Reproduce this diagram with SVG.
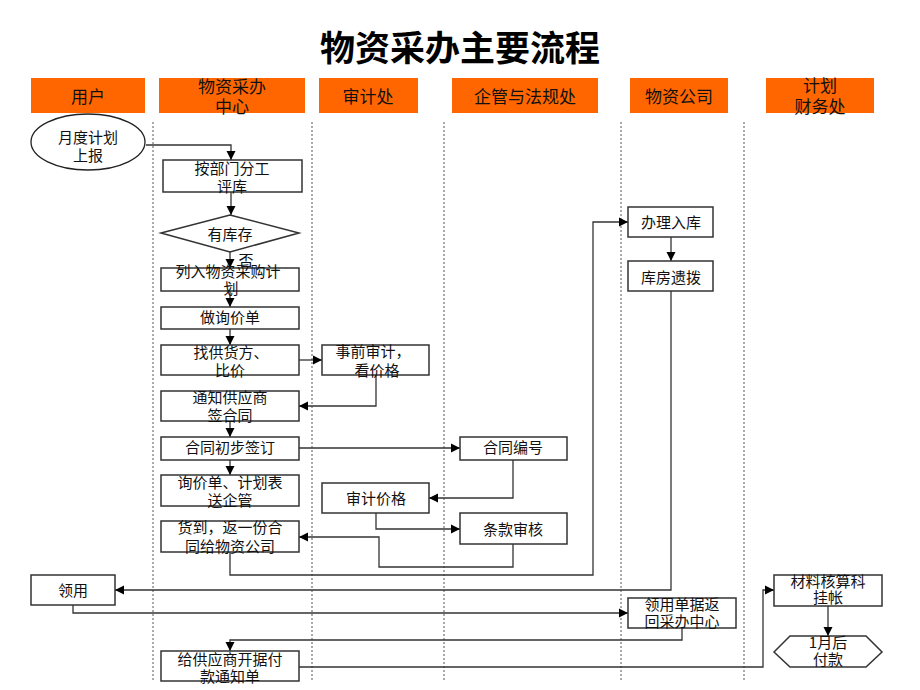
<svg xmlns="http://www.w3.org/2000/svg" width="920" height="690" viewBox="0 0 920 690">
<defs>
<style>
.t{font-family:"Noto Sans CJK SC","Liberation Sans",sans-serif;font-size:15px;fill:#111;text-anchor:middle}
.h{font-family:"Noto Sans CJK SC","Liberation Sans",sans-serif;font-size:17px;fill:#111;text-anchor:middle}
.hd{fill:#FF6600}
.lane{stroke:#555;stroke-width:1;stroke-dasharray:2,2;fill:none}
.box{fill:#fff;stroke:#333;stroke-width:1.5}
.c{fill:none;stroke:#333;stroke-width:1.3}
.a{marker-end:url(#ah)}
</style>
<marker id="ah" markerWidth="10" markerHeight="10" refX="9" refY="5" orient="auto" markerUnits="userSpaceOnUse">
<path d="M0,0.5 L9,5 L0,9.5 Z" fill="#000"/>
</marker>
</defs>
<rect width="920" height="690" fill="#fff"/>
<text x="460" y="61" style="font-family:'Noto Sans CJK SC',sans-serif;font-size:35px;font-weight:bold;text-anchor:middle" fill="#000">物资采办主要流程</text>

<g id="headers">
<rect class="hd" x="31" y="78" width="114" height="35"/>
<text class="h" x="88" y="103">用户</text>
<rect class="hd" x="159" y="78" width="146" height="35"/>
<text class="h" x="232" y="93">物资采办</text>
<text class="h" x="232" y="113">中心</text>
<rect class="hd" x="319" y="78" width="99" height="35"/>
<text class="h" x="368" y="103">审计处</text>
<rect class="hd" x="452" y="78" width="146" height="35"/>
<text class="h" x="525" y="103">企管与法规处</text>
<rect class="hd" x="630" y="78" width="98" height="35"/>
<text class="h" x="679" y="103">物资公司</text>
<rect class="hd" x="766" y="78" width="108" height="35"/>
<text class="h" x="820" y="92">计划</text>
<text class="h" x="820" y="113">财务处</text>
</g>

<g id="lanes">
<line class="lane" x1="153" y1="122" x2="153" y2="680"/>
<line class="lane" x1="312" y1="122" x2="312" y2="680"/>
<line class="lane" x1="444" y1="122" x2="444" y2="680"/>
<line class="lane" x1="621" y1="122" x2="621" y2="680"/>
<line class="lane" x1="744" y1="122" x2="744" y2="680"/>
</g>

<g id="connectors">
<path class="c a" d="M146,145 H231 V160"/>
<path class="c a" d="M231,192 V215"/>
<path class="c a" d="M230,252 V268"/>
<path class="c a" d="M230,291 V307"/>
<path class="c a" d="M230,329 V345"/>
<path class="c a" d="M299,360 H322"/>
<path class="c a" d="M376,375 V406 H299"/>
<path class="c a" d="M230,421 V437"/>
<path class="c a" d="M299,448 H460"/>
<path class="c a" d="M230,460 V475"/>
<path class="c a" d="M513,460 V498 H429"/>
<path class="c a" d="M376,513 V529 H460"/>
<path class="c a" d="M513,544 V567 H379 V537 H299"/>
<path class="c a" d="M230,552 V575 H593 V222 H628"/>
<path class="c a" d="M671,237 V261"/>
<path class="c a" d="M671,291 V590 H115"/>
<path class="c a" d="M73,605 V613 H628"/>
<path class="c a" d="M682,628 V640 H230 V651"/>
<path class="c a" d="M299,667 H763 V590 H774"/>
<path class="c a" d="M828,606 V636"/>
</g>

<g id="n-plan">
<ellipse cx="88" cy="142" rx="57" ry="28" fill="#fff" stroke="#222" stroke-width="1.3"/>
<text class="t" x="88" y="143">月度计划</text>
<text class="t" x="88" y="161">上报</text>
</g>
<g id="n-dept">
<rect class="box" x="163" y="160" width="139" height="32"/>
<text class="t" x="232" y="174">按部门分工</text>
<text class="t" x="232" y="192">评库</text>
</g>
<g id="n-stock">
<polygon class="box" points="161,233 230,215 299,233 230,252"/>
<text class="t" x="230" y="240">有库存</text>
<text class="t" x="246" y="266">否</text>
</g>
<g id="n-list">
<rect class="box" x="161" y="268" width="138" height="23"/>
<text class="t" x="228" y="277">列入物资采购计</text>
<text class="t" x="231" y="294">划</text>
</g>
<g id="n-inquiry">
<rect class="box" x="161" y="307" width="138" height="22"/>
<text class="t" x="230" y="323">做询价单</text>
</g>
<g id="n-supplier">
<rect class="box" x="161" y="345" width="138" height="30"/>
<text class="t" x="231" y="358">找供货方、</text>
<text class="t" x="230" y="376">比价</text>
</g>
<g id="n-preaudit">
<rect class="box" x="322" y="345" width="107" height="30"/>
<text class="t" x="373" y="357">事前审计，</text>
<text class="t" x="377" y="376">看价格</text>
</g>
<g id="n-notify">
<rect class="box" x="161" y="391" width="138" height="30"/>
<text class="t" x="230" y="403">通知供应商</text>
<text class="t" x="230" y="421">签合同</text>
</g>
<g id="n-sign">
<rect class="box" x="161" y="437" width="138" height="23"/>
<text class="t" x="230" y="453">合同初步签订</text>
</g>
<g id="n-number">
<rect class="box" x="460" y="437" width="107" height="23"/>
<text class="t" x="513" y="453">合同编号</text>
</g>
<g id="n-send">
<rect class="box" x="161" y="475" width="138" height="31"/>
<text class="t" x="230" y="488">询价单、计划表</text>
<text class="t" x="230" y="506">送企管</text>
</g>
<g id="n-auditprice">
<rect class="box" x="322" y="483" width="107" height="30"/>
<text class="t" x="376" y="504">审计价格</text>
</g>
<g id="n-terms">
<rect class="box" x="460" y="513" width="107" height="31"/>
<text class="t" x="513" y="535">条款审核</text>
</g>
<g id="n-arrive">
<rect class="box" x="161" y="521" width="138" height="31"/>
<text class="t" x="230" y="533">货到，返一份合</text>
<text class="t" x="230" y="552">同给物资公司</text>
</g>
<g id="n-storage">
<rect class="box" x="628" y="207" width="85" height="30"/>
<text class="t" x="671" y="228">办理入库</text>
</g>
<g id="n-dispatch">
<rect class="box" x="628" y="261" width="85" height="30"/>
<text class="t" x="671" y="283">库房遗拨</text>
</g>
<g id="n-use">
<rect class="box" x="31" y="575" width="84" height="30"/>
<text class="t" x="73" y="596">领用</text>
</g>
<g id="n-return">
<rect class="box" x="628" y="598" width="108" height="30"/>
<text class="t" x="682" y="610">领用单据返</text>
<text class="t" x="682" y="627">回采办中心</text>
</g>
<g id="n-paynotice">
<rect class="box" x="161" y="651" width="138" height="30"/>
<text class="t" x="230" y="665">给供应商开据付</text>
<text class="t" x="230" y="682">款通知单</text>
</g>
<g id="n-account">
<rect class="box" x="774" y="575" width="108" height="31"/>
<text class="t" x="828" y="587">材料核算科</text>
<text class="t" x="828" y="603">挂帐</text>
</g>
<g id="n-pay">
<polygon class="box" points="774,652 790,636 866,636 882,652 866,667 790,667"/>
<text class="t" x="828" y="648">1月后</text>
<text class="t" x="828" y="665">付款</text>
</g>
</svg>
